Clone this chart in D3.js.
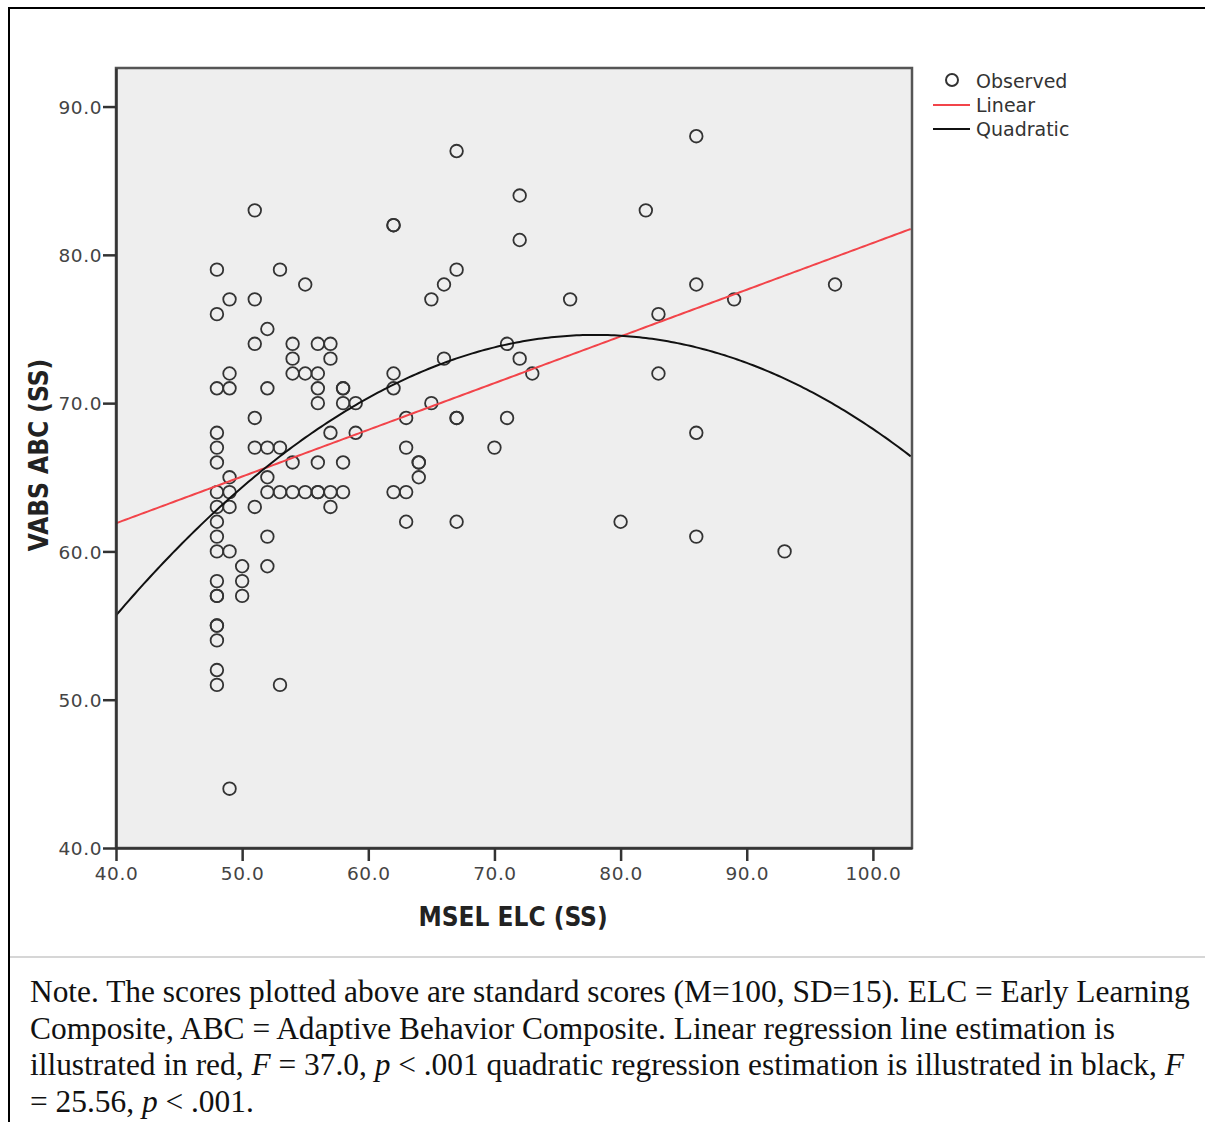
<!DOCTYPE html>
<html>
<head>
<meta charset="utf-8">
<script src="https://cdn.jsdelivr.net/npm/d3@7"></script>
<style>
  body { margin: 0; background: #fff; }
  svg { display: block; }
</style>
</head>
<body>
<div id="chart"></div>
<script>
// observed scores (MSEL ELC vs VABS ABC)
const elc = [
  48,48,48,48,48,48,48,48,48,48,48,48,48,48,48,48,48,48,48,
  49,49,49,49,49,49,49,49,
  50,50,50,
  51,51,51,51,51,51,
  52,52,52,52,52,52,52,
  53,53,53,53,
  54,54,54,54,54,
  55,55,55,
  56,56,56,56,56,56,56,
  57,57,57,57,57,
  58,58,58,58,58,
  59,59,
  62,62,62,62,62,
  63,63,63,63,
  64,64,64,
  65,65,
  66,66,
  67,67,67,67,67,
  70, 71,71, 72,72,72, 73, 76, 80, 82, 83,83,
  86,86,86,86, 89, 93, 97
];
const abc = [
  79,76,71,68,67,66,64,63,62,61,60,58,57,57,55,55,54,52,51,
  77,72,71,65,64,63,60,44,
  59,58,57,
  83,77,74,69,67,63,
  75,71,67,65,64,61,59,
  79,67,64,51,
  74,73,72,66,64,
  78,72,64,
  74,72,71,70,66,64,64,
  74,73,68,64,63,
  71,71,70,66,64,
  70,68,
  82,82,72,71,64,
  69,67,64,62,
  66,66,65,
  77,70,
  78,73,
  87,79,69,69,62,
  67, 74,69, 84,81,73, 72, 77, 62, 83, 76,72,
  88,78,68,61, 77, 60, 78
];

// fitted models
const linearFit = [61.9, 0.315];            // a + b*(x - 40)
const quadFit = [74.6, 78, -0.0131];         // k + c*(x - h)^2

const xTicks = [40, 50, 60, 70, 80, 90, 100];
const yTicks = [40, 50, 60, 70, 80, 90];
const legendItems = ["Observed", "Linear", "Quadratic"];

const width = 1205, height = 1122;
const plot = { left: 116, right: 912, top: 68, bottom: 848 };

const svg = d3.select("#chart").append("svg")
  .attr("width", width)
  .attr("height", height);

// outer frame
svg.append("rect")
  .attr("x", 9).attr("y", 8)
  .attr("width", width + 10).attr("height", height + 10)
  .attr("fill", "none").attr("stroke", "#000").attr("stroke-width", 2);

svg.append("line")
  .attr("x1", 10).attr("x2", width)
  .attr("y1", 957).attr("y2", 957)
  .attr("stroke", "#c8c8c8").attr("stroke-width", 1.5);

const x = d3.scaleLinear()
  .domain([40, 103.1])
  .range([plot.left, plot.right]);

const y = d3.scaleLinear()
  .domain([40, 92.6])
  .range([plot.bottom, plot.top]);

// plot background
svg.append("rect")
  .attr("x", plot.left).attr("y", plot.top)
  .attr("width", plot.right - plot.left)
  .attr("height", plot.bottom - plot.top)
  .attr("fill", "#eeeeee");

svg.append("clipPath").attr("id", "plotclip")
  .append("rect")
  .attr("x", plot.left).attr("y", plot.top)
  .attr("width", plot.right - plot.left)
  .attr("height", plot.bottom - plot.top);

// points
svg.append("g")
  .selectAll("circle")
  .data(elc.map((d, i) => [d, abc[i]]))
  .join("circle")
  .attr("cx", d => x(d[0]))
  .attr("cy", d => y(d[1]))
  .attr("r", 6.3)
  .attr("fill", "none")
  .attr("stroke", "#333")
  .attr("stroke-width", 1.8);

// fit lines
const xs = d3.range(40, 103.2, 0.25);
const lineGen = d3.line().x(d => x(d[0])).y(d => y(d[1]));

svg.append("path")
  .attr("clip-path", "url(#plotclip)")
  .attr("d", lineGen(xs.map(v => [v, linearFit[0] + linearFit[1] * (v - 40)])))
  .attr("fill", "none").attr("stroke", "#f2444a").attr("stroke-width", 2);

svg.append("path")
  .attr("clip-path", "url(#plotclip)")
  .attr("d", lineGen(xs.map(v => [v, quadFit[0] + quadFit[2] * (v - quadFit[1]) ** 2])))
  .attr("fill", "none").attr("stroke", "#111").attr("stroke-width", 2);

// plot frame
svg.append("rect")
  .attr("x", plot.left).attr("y", plot.top)
  .attr("width", plot.right - plot.left)
  .attr("height", plot.bottom - plot.top)
  .attr("fill", "none").attr("stroke", "#555").attr("stroke-width", 2.5);

// axes
const fmt = d3.format(".1f");
const xAxis = svg.append("g")
  .attr("transform", `translate(0,${plot.bottom})`)
  .call(d3.axisBottom(x).tickValues(xTicks).tickFormat(fmt).tickSize(13).tickPadding(6).tickSizeOuter(0));
const yAxis = svg.append("g")
  .attr("transform", `translate(${plot.left},0)`)
  .call(d3.axisLeft(y).tickValues(yTicks).tickFormat(fmt).tickSize(13).tickPadding(1).tickSizeOuter(0));

[xAxis, yAxis].forEach(ax => {
  ax.select(".domain").attr("stroke", "#333").attr("stroke-width", 2.5);
  ax.selectAll(".tick line").attr("stroke", "#333").attr("stroke-width", 2.5);
  ax.selectAll("text")
    .attr("fill", "#444")
    .style("font-family", "'DejaVu Sans', sans-serif")
    .style("font-size", "18.5px")
    .style("letter-spacing", "0.6px");
});
yAxis.selectAll(".tick text").attr("dy", "0.36em");

// axis titles
svg.append("text")
  .attr("x", 513)
  .attr("y", 926)
  .attr("text-anchor", "middle")
  .style("font-family", "'DejaVu Sans Condensed', 'DejaVu Sans', sans-serif")
  .style("font-size", "26px")
  .style("font-weight", "bold")
  .attr("fill", "#222")
  .text("MSEL ELC (SS)");

svg.append("text")
  .attr("transform", `translate(48,${455}) rotate(-90)`)
  .attr("text-anchor", "middle")
  .style("font-family", "'DejaVu Sans Condensed', 'DejaVu Sans', sans-serif")
  .style("font-size", "26px")
  .style("font-weight", "bold")
  .attr("fill", "#222")
  .text("VABS ABC (SS)");

// legend
const legend = svg.append("g")
  .style("font-family", "'DejaVu Sans', sans-serif")
  .style("font-size", "19px");
legendItems.forEach((name, i) => {
  const ly = 81 + i * 24;
  if (i === 0) {
    legend.append("circle")
      .attr("cx", 952).attr("cy", ly - 1).attr("r", 6)
      .attr("fill", "none").attr("stroke", "#333").attr("stroke-width", 2);
  } else {
    legend.append("line")
      .attr("x1", 933).attr("x2", 970)
      .attr("y1", ly).attr("y2", ly)
      .attr("stroke", i === 1 ? "#f2444a" : "#111").attr("stroke-width", 2);
  }
  legend.append("text")
    .attr("x", 976).attr("y", ly + 7)
    .attr("fill", "#333")
    .text(name);
});

// note
const note = svg.append("text")
  .style("font-family", "'Liberation Serif', 'Times New Roman', serif")
  .style("font-size", "31.4px")
  .attr("fill", "#111");
const noteLines = [
  [["Note. The scores plotted above are standard scores (M=100, SD=15). ELC = Early Learning", false]],
  [["Composite, ABC = Adaptive Behavior Composite. Linear regression line estimation is", false]],
  [["illustrated in red, ", false], ["F", true], [" = 37.0, ", false], ["p", true],
   [" < .001 quadratic regression estimation is illustrated in black, ", false], ["F", true]],
  [["= 25.56, ", false], ["p", true], [" < .001.", false]]
];
noteLines.forEach((parts, i) => {
  const t = note.append("tspan").attr("x", 30).attr("y", 1002 + i * 36.5);
  parts.forEach(([s, it], j) => {
    const sp = j === 0 ? t : note.append("tspan");
    sp.text(s).style("font-style", it ? "italic" : "normal");
  });
});
</script>
</body>
</html>
